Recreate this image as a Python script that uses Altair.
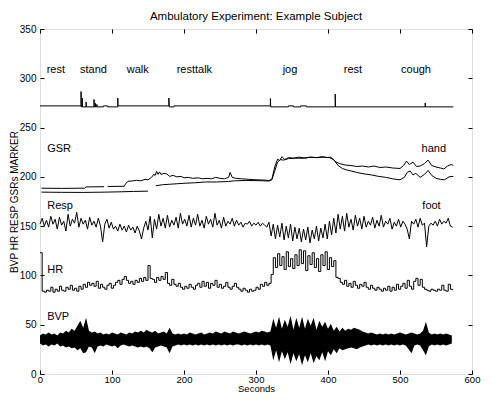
import altair as alt
import pandas as pd

FONT = "Liberation Sans"

TITLE = "Ambulatory Experiment: Example Subject"
X_TITLE = "Seconds"
Y_TITLE = "BVP HR RESP GSRs MARKER"
X_TICKS = [0, 100, 200, 300, 400, 500, 600]
Y_TICKS = [0, 50, 100, 150, 200, 250, 300, 350]

# event annotations (left edge in seconds, baseline value)
EVENT_NAMES = ["rest", "stand", "walk", "resttalk", "jog", "rest", "cough"]
EVENT_T = [9.3, 55.6, 120.4, 189.8, 337, 422, 501.4]
EVENT_V = [305.5, 305.5, 305.5, 305.5, 305.5, 305.5, 305.5]

SIGNAL_NAMES = ["GSR", "hand", "Resp", "foot", "HR", "BVP"]
SIGNAL_T = [10, 530, 10, 531, 10, 10]
SIGNAL_V = [225.2, 225.2, 167.5, 167.5, 102.4, 54.5]

# MARKER channel
MARKER_T = [0, 57, 57, 57.4, 58.5, 58.5, 58.9, 64, 64, 64.4, 75, 75, 75.4, 77, 77, 77.4,
            79, 79, 79.4, 88, 88, 94, 94, 108, 108, 108.4, 179, 179, 179.4, 186, 186,
            320, 320, 320.4, 345, 345, 352, 352, 362, 362, 370, 370, 410, 410, 410.4,
            535, 535, 535.4, 574]
MARKER_V = [272, 272, 286.5, 271, 271, 280, 271, 271, 276, 271, 271, 278.5, 271, 271, 274.5, 271,
            271, 273.5, 271, 271, 272, 272, 271, 271, 280, 272, 272, 280, 271, 271, 272,
            272, 279.5, 271, 271, 272, 272, 271, 271, 272, 272, 271, 271, 284, 271,
            271, 275, 271, 271]

# GSR hand (None = gap)
GSR_HAND_T = [2, 30, 62, 64, 89, None, 94, 117, 119, 122, 128, 134, 140, 146, 150, 155, 158, 160,
              162, 164, 166, 168, 172, 176, 180, 185, 190, 196, 200, 206, 212, 220, 226, 232, 238,
              244, 250, 256, 262, 264, 267, 272, 280, 290, 300, 310, 318, 322, 326, 330, 333, 336,
              340, 345, 352, 360, 368, 376, 384, 392, 398, 404, 410, 416, 424, 432, 440, 448, 456,
              464, 472, 480, 490, 500, 505, 509, 513, 518, 523, 528, 534, 539, 544, 550, 556, 561,
              566, 571, 574]
GSR_HAND_V = [188.5, 188.3, 188.5, 189.8, 190, None, 190.2, 190.5, 193, 195.5, 195.8, 196.5, 196,
              197.5, 197, 199.5, 202.5, 201.5, 205.5, 202.5, 205, 202.5, 203.5, 203, 200.5, 201.5,
              200, 200.5, 199, 199.5, 198.5, 199, 198, 198.5, 198, 199.5, 198.5, 198, 199.5, 204.5,
              199.5, 198.5, 198, 197.5, 197, 196.8, 196.3, 197.5, 210, 218, 216.5, 220.5, 217.5,
              219.5, 219, 220, 219, 220, 219.5, 220.5, 219.5, 220, 215.5, 213.5, 212, 211.5, 210.5,
              211, 210, 211, 209.5, 210, 209, 208.5, 211.5, 216, 212.5, 215, 210.5, 211, 213.5, 217,
              211.5, 210, 209, 208, 211, 212.5, 211.5]

# GSR foot (None = gap)
GSR_FOOT_T = [2, 30, 60, 90, 110, 130, 150, None, 161, 170, 180, 190, 200, 215, 230, 245, 262, 270,
              285, 300, 310, 318, 322, 326, 330, 334, 338, 345, 355, 365, 375, 385, 395, 402, 408,
              414, 420, 426, 432, 440, 450, 460, 470, 480, 490, 500, 506, 510, 514, 518, 522, 528,
              534, 539, 544, 550, 556, 562, 568, 574]
GSR_FOOT_V = [184.5, 184.3, 184.2, 184.5, 184.8, 185.2, 185.5, None, 191, 192, 192.5, 193, 193.5,
              194, 194.8, 194.8, 195.3, 196, 196.3, 196.2, 196, 195.8, 197, 206, 215, 217.5, 217,
              218.5, 219, 218.8, 220, 219.5, 220, 219.5, 217.5, 211.5, 208.5, 207, 206, 204.5, 203,
              202, 200.5, 199.5, 198, 197, 199.5, 204.5, 206, 202, 203.5, 199.5, 202.5, 206.5,
              201.5, 198.5, 197.5, 197, 200, 200.5]

# Respiration, sampled every 3 s
RESP_DT = 3
RESP_V = [152, 158, 150, 156, 149, 160, 152, 157, 147, 159,
          151, 155, 145, 162, 150, 157, 153, 164, 149, 158,
          152, 156, 147, 159, 151, 155, 149, 158, 150, 134,
          152, 157, 148, 154, 147, 150, 145, 152, 146, 150,
          144, 151, 146, 149, 143, 150, 145, 137, 148, 155,
          146, 160, 138, 157, 147, 162, 150, 158, 148, 161,
          149, 156, 151, 159, 148, 163, 152, 157, 150, 161,
          149, 158, 151, 162, 150, 156, 148, 160, 152, 157,
          149, 163, 151, 156, 148, 159, 150, 155, 152, 158,
          150, 156, 151, 154, 149, 153, 152, 155, 150, 153,
          151, 154, 150, 153, 151, 149, 154, 140, 152, 137,
          151, 139, 153, 136, 150, 138, 152, 135, 149, 137,
          148, 134, 147, 136, 149, 133, 146, 137, 150, 135,
          148, 138, 152, 137, 155, 141, 158, 143, 162, 147,
          160, 145, 163, 149, 157, 146, 161, 150, 158, 147,
          160, 149, 155, 151, 159, 148, 156, 150, 161, 149,
          155, 152, 158, 147, 154, 150, 157, 149, 155, 152,
          147, 137, 155, 152, 157, 149, 158, 151, 153, 129,
          150, 153, 151, 155, 150, 157, 152, 155, 153, 158,
          150, 149]

# Heart rate, sampled every 3 s
HR_DT = 3
HR_V = [123, 84, 83, 85, 84, 88, 83, 86, 84, 89,
        85, 84, 88, 86, 90, 85, 87, 84, 89, 86,
        91, 88, 93, 90, 92, 89, 94, 87, 91, 88,
        86, 90, 92, 87, 90, 93, 95, 91, 96, 99,
        95, 92, 94, 91, 95, 93, 97, 94, 98, 95,
        110, 97, 96, 93, 98, 95, 99, 96, 103, 92,
        90, 96, 91, 89, 92, 88, 86, 89, 87, 91,
        88, 86, 90, 92, 88, 94, 89, 93, 87, 92,
        90, 95, 88, 91, 87, 89, 93, 88, 86, 89,
        92, 88, 86, 84, 87, 85, 83, 86, 84, 85,
        88, 86, 91, 89, 93, 90, 92, 101, 118, 108,
        122, 110, 119, 106, 124, 109, 117, 107, 121, 110,
        126, 112, 125, 105, 120, 111, 123, 108, 117, 104,
        121, 110, 124, 106, 118, 109, 115, 98, 97, 93,
        91, 95, 89, 92, 88, 94, 90, 87, 91, 89,
        93, 88, 86, 90, 87, 85, 88, 86, 84, 87,
        85, 89, 84, 88, 85, 91, 86, 89, 92, 87,
        95, 89, 86, 94, 97, 90, 96, 88, 86, 85,
        84, 86, 85, 84, 86, 85, 90, 85, 84, 91,
        86, 85]

# BVP envelope, sampled every 4 s
BVP_DT = 4
BVP_HI = [39, 41, 40, 42, 40, 41, 39, 42, 41, 44,
          42, 46, 44, 49, 54, 47, 57, 44, 42, 43,
          41, 42, 40, 41, 40, 42, 41, 40, 42, 41,
          40, 42, 41, 43, 42, 44, 42, 45, 43, 42,
          44, 41, 42, 43, 41, 47, 41, 40, 41, 40,
          41, 40, 42, 41, 40, 41, 42, 40, 41, 42,
          41, 43, 42, 41, 43, 42, 41, 43, 42, 41,
          42, 43, 42, 41, 42, 43, 42, 44, 43, 42,
          43, 56, 47, 58, 46, 55, 48, 59, 45, 57,
          47, 58, 46, 56, 49, 57, 45, 54, 48, 53,
          46, 51, 44, 48, 43, 47, 44, 46, 45, 47,
          46, 45, 43, 42, 41, 42, 41, 40, 41, 40,
          41, 40, 41, 40, 41, 42, 41, 40, 41, 42,
          41, 40, 41, 44, 53, 42, 40, 41, 40, 41,
          40, 41, 40, 39]
BVP_LO = [31, 29, 30, 28, 30, 29, 31, 28, 29, 27,
          28, 26, 27, 24, 26, 21, 22, 28, 27, 21,
          28, 29, 28, 30, 29, 28, 29, 26, 29, 30,
          29, 28, 29, 28, 27, 28, 27, 28, 26, 22,
          27, 28, 29, 28, 27, 21, 28, 29, 30, 29,
          30, 29, 30, 29, 30, 29, 30, 29, 30, 29,
          30, 29, 30, 29, 30, 29, 30, 29, 30, 30,
          29, 30, 29, 30, 29, 30, 29, 30, 29, 30,
          29, 14, 24, 12, 23, 15, 22, 10, 21, 13,
          20, 9, 19, 12, 21, 11, 18, 14, 22, 13,
          23, 19, 25, 21, 26, 24, 25, 26, 27, 26,
          25, 27, 28, 29, 30, 29, 30, 29, 30, 29,
          30, 29, 30, 29, 30, 29, 30, 29, 25, 21,
          29, 30, 29, 24, 19, 28, 30, 29, 30, 29,
          30, 29, 30, 31]


def segments(ts, vs, name):
    rows, seg = [], 0
    for t, v in zip(ts, vs):
        if v is None:
            seg += 1
            continue
        rows.append({"t": t, "v": v, "seg": f"{name}{seg}"})
    return rows


gsr_df = pd.DataFrame(segments(GSR_HAND_T, GSR_HAND_V, "hand") + segments(GSR_FOOT_T, GSR_FOOT_V, "foot"))
marker_df = pd.DataFrame({"t": MARKER_T, "v": MARKER_V, "i": list(range(len(MARKER_T)))})
resp_df = pd.DataFrame({"t": [i * RESP_DT for i in range(len(RESP_V))], "v": RESP_V})
hr_df = pd.DataFrame({"t": [i * HR_DT for i in range(len(HR_V))], "v": HR_V})
bvp_df = pd.DataFrame({"t": [i * BVP_DT for i in range(len(BVP_HI))], "hi": BVP_HI, "lo": BVP_LO})
text_df = pd.DataFrame({"label": EVENT_NAMES + SIGNAL_NAMES, "t": EVENT_T + SIGNAL_T, "v": EVENT_V + SIGNAL_V})

xsc = alt.Scale(domain=[0, 600], nice=False, zero=False)
ysc = alt.Scale(domain=[0, 350], nice=False, zero=False)

common = dict(grid=False, domain=False, tickColor="black", tickSize=4, offset=-4, tickWidth=1,
              labelColor="black", titleColor="black", labelFont=FONT, titleFont=FONT,
              labelFontSize=10, titleFontSize=10, titleFontWeight="normal")

ax_bottom = alt.Axis(orient="bottom", values=X_TICKS, labelPadding=0, labelFlush=False,
                     labelOverlap=False, title=X_TITLE, titleY=21, titleBaseline="alphabetic",
                     **{**common, "titleFontSize": 9.5, "labelFontSize": 9.5})
ax_left = alt.Axis(orient="left", values=Y_TICKS, labelPadding=4, labelOverlap=False,
                   title=Y_TITLE, titlePadding=0, **common)
ax_top = alt.Axis(orient="top", values=X_TICKS, labels=False, title=None, **common)
ax_right = alt.Axis(orient="right", values=Y_TICKS, labels=False, title=None, **common)

bvp = alt.Chart(bvp_df).mark_area(color="black", opacity=1, interpolate="linear").encode(
    x=alt.X("t:Q", scale=xsc, axis=ax_bottom),
    y=alt.Y("lo:Q", scale=ysc, axis=ax_left),
    y2="hi:Q",
)

hr = alt.Chart(hr_df).mark_line(color="black", strokeWidth=1, interpolate="step-after").encode(
    x=alt.X("t:Q", scale=xsc, axis=None), y=alt.Y("v:Q", scale=ysc, axis=None))

resp = alt.Chart(resp_df).mark_line(color="black", strokeWidth=1).encode(
    x=alt.X("t:Q", scale=xsc, axis=None), y=alt.Y("v:Q", scale=ysc, axis=None))

gsr = alt.Chart(gsr_df).mark_line(color="black", strokeWidth=1).encode(
    x=alt.X("t:Q", scale=xsc, axis=None), y=alt.Y("v:Q", scale=ysc, axis=None), detail="seg:N")

marker = alt.Chart(marker_df).mark_line(color="black", strokeWidth=1).encode(
    x=alt.X("t:Q", scale=xsc, axis=None), y=alt.Y("v:Q", scale=ysc, axis=None), order="i:Q")

texts = alt.Chart(text_df).mark_text(align="left", baseline="alphabetic", font=FONT, fontSize=11,
                                     color="black").encode(
    x=alt.X("t:Q", scale=xsc, axis=None), y=alt.Y("v:Q", scale=ysc, axis=None), text="label:N")

frame_ticks = alt.Chart(marker_df).mark_line(opacity=0).encode(
    x=alt.X("t:Q", scale=xsc, axis=ax_top), y=alt.Y("v:Q", scale=ysc, axis=ax_right))

chart = alt.layer(bvp, hr, resp, gsr, marker, texts, frame_ticks).resolve_axis(
    x="independent", y="independent"
).properties(
    width=432, height=345,
    autosize=alt.AutoSizeParams(type="none"),
    padding={"left": 32, "top": 21, "right": 14, "bottom": 18},
    title=alt.TitleParams(TITLE, font=FONT, fontSize=11.5, fontWeight="normal", color="black",
                          anchor="middle", offset=2),
).configure_view(stroke="black", strokeWidth=1).configure(background="white")

chart.save("out.html", embed_options={"renderer": "svg", "actions": False})
